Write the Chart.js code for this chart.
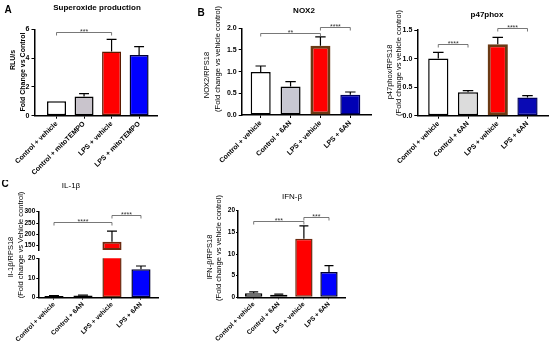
<!DOCTYPE html>
<html>
<head>
<meta charset="utf-8">
<script src="https://cdn.jsdelivr.net/npm/chart.js@4"></script>
<style>
  body { margin: 0; background: #fff; }
  #fig { position: relative; width: 550px; height: 344px; overflow: hidden; }
  #fig canvas { position: absolute; }
</style>
</head>
<body>
<div id="fig">
  <canvas id="panel-a"></canvas>
  <canvas id="panel-b"></canvas>
  <canvas id="panel-p47"></canvas>
  <canvas id="panel-il1b-low"></canvas>
  <canvas id="panel-il1b-high"></canvas>
  <canvas id="panel-ifnb"></canvas>
</div>
<script>
// categories
const mitoLabels = ['Control + vehicle', 'Control + mitoTEMPO', 'LPS + vehicle', 'LPS + mitoTEMPO'];
const sixAnLabels = ['Control + vehicle', 'Control + 6AN', 'LPS + vehicle', 'LPS + 6AN'];

// A - superoxide (fold change vs control)
const superoxideMeans = [1.0, 1.33, 4.45, 4.22];
const superoxideSem = [0, 0.2, 0.85, 0.58];
const superoxideTicks = [0, 2, 4, 6];
const superoxideSig = [[0, 2, 5.84, '***']];

// B - NOX2/RPS18
const nox2Means = [0.99, 0.66, 1.6, 0.47];
const nox2Sem = [0.14, 0.11, 0.2, 0.06];
const nox2Ticks = [0, 0.5, 1.0, 1.5, 2.0];
const nox2Sig = [[0, 2, 1.9, '**'], [2, 3, 2.03, '****']];

// B - p47phox/RPS18
const p47Means = [1.0, 0.41, 1.25, 0.32];
const p47Sem = [0.11, 0.03, 0.12, 0.03];
const p47Ticks = [0, 0.5, 1.0, 1.5];
const p47Sig = [[0, 1, 1.25, '****'], [2, 3, 1.53, '****']];

// C - IL-1b/RPS18 (broken axis)
const il1bMeans = [0.9, 1.1, 167, 14.5];
const il1bSem = [0.15, 0.2, 47, 1.6];
const il1bLowTicks = [0, 5, 10, 15, 20];
const il1bHighTicks = [150, 200, 250, 300];
const il1bSig = [[0, 2, 253, '****'], [2, 3, 285, '****']];

// C - IFN-b/RPS18
const ifnbMeans = [0.95, 0.6, 13.5, 5.85];
const ifnbSem = [0.3, 0.15, 3.0, 1.45];
const ifnbTicks = [0, 5, 10, 15, 20];
const ifnbSig = [[0, 2, 17.6, '***'], [2, 3, 18.6, '***']];

const FONT = '"Liberation Sans", Arial, sans-serif';

// error bars, significance brackets and free text (panel letters, titles, y titles)
function figurePlugin(p) {
  return {
    id: 'fig-' + p.name,
    afterDatasetsDraw(chart) {
      const ctx = chart.ctx, xs = chart.scales.x, ys = chart.scales.y;
      const meta = chart.getDatasetMeta(0);
      ctx.save();
      ctx.strokeStyle = '#000';
      ctx.lineWidth = 1.2;
      p.sem.forEach((e, i) => {
        const v = p.means[i];
        if (!e || v == null || v > ys.max || v < ys.min) return;
        const bar = meta.data[i];
        const top = ys.getPixelForValue(v + e);
        const half = bar.width * 0.26;
        ctx.beginPath();
        ctx.moveTo(bar.x, bar.y);
        ctx.lineTo(bar.x, top);
        ctx.moveTo(bar.x - half, top);
        ctx.lineTo(bar.x + half, top);
        ctx.stroke();
      });
      ctx.strokeStyle = '#555';
      ctx.lineWidth = 0.8;
      ctx.fillStyle = '#333';
      ctx.font = '7px ' + FONT;
      ctx.textAlign = 'center';
      ctx.textBaseline = 'alphabetic';
      (p.sig || []).forEach(([a, b, yv, txt]) => {
        const x1 = xs.getPixelForValue(a), x2 = xs.getPixelForValue(b);
        const y = Math.round(ys.getPixelForValue(yv)) + 0.5;
        ctx.beginPath();
        ctx.moveTo(x1, y + 3);
        ctx.lineTo(x1, y);
        ctx.lineTo(x2, y);
        ctx.lineTo(x2, y + 3);
        ctx.stroke();
        ctx.fillText(txt, (x1 + x2) / 2, y + 1);
      });
      ctx.restore();
    },
    afterDraw(chart) {
      const ctx = chart.ctx;
      ctx.save();
      ctx.fillStyle = '#000';
      ctx.textBaseline = 'middle';
      ctx.textAlign = 'center';
      (p.texts || []).forEach(t => {
        ctx.font = t.font + ' ' + FONT;
        ctx.save();
        ctx.translate(t.x - p.box.x, t.y - p.box.y);
        if (t.rot) ctx.rotate(-Math.PI / 2);
        ctx.fillText(t.text, 0, 0);
        ctx.restore();
      });
      ctx.restore();
    }
  };
}

function buildPanel(id, box, area, cfg) {
  const canvas = document.getElementById(id);
  canvas.width = box.w;
  canvas.height = box.h;
  canvas.style.left = box.x + 'px';
  canvas.style.top = box.y + 'px';
  const yW = 20;
  const xH = cfg.hideX ? 0 : cfg.xH;
  const size = cfg.tickSize || 7;
  const tickFont = { family: FONT, size: size, weight: 'bold' };
  const tickLen = size < 7 ? 2 : 3;
  return new Chart(canvas, {
    type: 'bar',
    data: {
      datasets: [{
        data: cfg.means.map((v, i) => ({ x: i, y: cfg.keep ? (cfg.keep(v) ? v : null) : v })),
        backgroundColor: cfg.fill,
        borderColor: cfg.stroke,
        borderWidth: cfg.strokeW,
        borderSkipped: false,
        barPercentage: cfg.barPct,
        categoryPercentage: 1,
        base: cfg.yMin,
        clip: 0
      }]
    },
    options: {
      responsive: false,
      animation: false,
      devicePixelRatio: 1,
      events: [],
      layout: {
        padding: {
          left: area.l - box.x - yW,
          right: box.x + box.w - area.r,
          top: area.t - box.y,
          bottom: box.y + box.h - area.b - xH
        }
      },
      plugins: { legend: { display: false }, tooltip: { enabled: false } },
      scales: {
        x: {
          type: 'linear',
          min: cfg.xMin,
          max: cfg.xMax,
          offset: false,
          display: !cfg.hideX,
          afterBuildTicks: s => { s.ticks = cfg.labels.map((_, i) => ({ value: i })); },
          afterFit: s => { s.height = xH; },
          ticks: {
            callback: v => cfg.labels[v],
            minRotation: 45, maxRotation: 45, autoSkip: false,
            padding: 1, color: '#000', font: tickFont
          },
          grid: { drawOnChartArea: false, offset: false, tickLength: tickLen, color: '#000', lineWidth: 1 },
          border: { color: '#000', width: 1.5 }
        },
        y: {
          min: cfg.yMin,
          max: cfg.ticks[cfg.ticks.length - 1],
          afterBuildTicks: s => { s.ticks = cfg.ticks.map(v => ({ value: v })); },
          afterFit: s => { s.width = yW; },
          ticks: { callback: cfg.fmt || (v => v), padding: size < 7 ? 1 : 2, color: '#000', font: tickFont },
          grid: { drawOnChartArea: false, tickLength: tickLen, color: '#000', lineWidth: 1 },
          border: { color: '#000', width: 1.5 }
        }
      }
    },
    plugins: [figurePlugin({ name: id, box: box, means: cfg.means, sem: cfg.sem, sig: cfg.sig, texts: cfg.texts })]
  });
}

const fixed1 = v => v.toFixed(1);
const redEdge = '#6b3a14';
const navyEdge = '#00005a';

// A
buildPanel('panel-a', { x: 0, y: 0, w: 185, h: 180 }, { l: 34.5, t: 29.3, r: 157, b: 115.7 }, {
  labels: mitoLabels, means: superoxideMeans, sem: superoxideSem, ticks: superoxideTicks, sig: superoxideSig,
  yMin: 0, xMin: -0.8, xMax: 3.65, xH: 60, barPct: 0.69,
  fill: ['#ffffff', '#c9c4cc', '#ff0000', '#0000ff'],
  stroke: ['#000', '#000', '#5a1a00', '#000033'], strokeW: 1.5,
  texts: [
    { text: 'A', x: 8, y: 10, font: 'bold 10px' },
    { text: 'Superoxide production', x: 97, y: 8, font: 'bold 8px' },
    { text: 'RLU/s', x: 13, y: 60, font: 'bold 7px', rot: true },
    { text: 'Fold Change vs Control', x: 23, y: 72, font: 'bold 7px', rot: true }
  ]
});

// B - NOX2
buildPanel('panel-b', { x: 185, y: 0, w: 187, h: 180 }, { l: 241.7, t: 28.3, r: 371.7, b: 115 }, {
  labels: sixAnLabels, means: nox2Means, sem: nox2Sem, ticks: nox2Ticks, sig: nox2Sig, fmt: fixed1,
  yMin: 0, xMin: -0.636, xMax: 3.716, xH: 60, barPct: 0.67,
  fill: ['#ffffff', '#c8c8d2', '#ff0000', '#0000b4'],
  stroke: ['#000', '#000', redEdge, navyEdge], strokeW: [1.5, 1.5, 3, 1.5],
  texts: [
    { text: 'B', x: 201, y: 13, font: 'bold 10px' },
    { text: 'NOX2', x: 304, y: 11, font: 'bold 8px' },
    { text: 'NOX2/RPS18', x: 207, y: 75, font: '7.5px', rot: true },
    { text: '(Fold change vs vehicle control)', x: 218, y: 59, font: '7.5px', rot: true }
  ]
});

// B - p47phox
buildPanel('panel-p47', { x: 365, y: 0, w: 185, h: 180 }, { l: 417.3, t: 30, r: 548.3, b: 115.7 }, {
  labels: sixAnLabels, means: p47Means, sem: p47Sem, ticks: p47Ticks, sig: p47Sig, fmt: fixed1,
  yMin: 0, xMin: -0.706, xMax: 3.7, xH: 60, barPct: 0.68,
  fill: ['#ffffff', '#dcdcdc', '#ff0000', '#0a0ab4'],
  stroke: ['#000', '#000', redEdge, navyEdge], strokeW: [1.5, 1.5, 3, 1.5],
  texts: [
    { text: 'p47phox', x: 487, y: 15, font: 'bold 8px' },
    { text: 'p47phox/RPS18', x: 390, y: 72, font: '7.5px', rot: true },
    { text: '(Fold change vs vehicle control)', x: 399, y: 63, font: '7.5px', rot: true }
  ]
});

// C - IL-1b, lower segment
const il1bFill = ['#ffffff', '#ffffff', '#ff0000', '#0000ff'];
const il1bStroke = ['#000', '#000', '#6b2a10', '#000033'];
buildPanel('panel-il1b-low', { x: 0, y: 180, w: 200, h: 164 }, { l: 38.3, t: 258.3, r: 158, b: 297.7 }, {
  labels: sixAnLabels, means: il1bMeans, sem: il1bSem, ticks: il1bLowTicks,
  yMin: 0, xMin: -0.541, xMax: 3.587, xH: 44, barPct: 0.66, tickSize: 6.5,
  fill: il1bFill, stroke: il1bStroke, strokeW: 1.5,
  texts: [
    { text: 'C', x: 5, y: 184, font: 'bold 10px' },
    { text: 'IL-1\u03b2', x: 71, y: 186, font: '8px' },
    { text: 'Il-1\u03b2/RPS18', x: 11, y: 257, font: '7.5px', rot: true },
    { text: '(Fold change vs Vehicle control)', x: 20.5, y: 245, font: '7.5px', rot: true }
  ]
});

// C - IL-1b, upper segment above the break
buildPanel('panel-il1b-high', { x: 0, y: 180, w: 200, h: 80 }, { l: 38.3, t: 211.7, r: 158, b: 250 }, {
  labels: sixAnLabels, means: il1bMeans, sem: il1bSem, ticks: il1bHighTicks, sig: il1bSig,
  keep: v => v >= il1bHighTicks[0],
  yMin: 131, xMin: -0.541, xMax: 3.587, hideX: true, barPct: 0.66, tickSize: 6.5,
  fill: il1bFill, stroke: il1bStroke, strokeW: 2
});

// C - IFN-b
buildPanel('panel-ifnb', { x: 200, y: 180, w: 170, h: 164 }, { l: 238, t: 210.7, r: 345, b: 297.3 }, {
  labels: sixAnLabels, means: ifnbMeans, sem: ifnbSem, ticks: ifnbTicks, sig: ifnbSig,
  yMin: 0, xMin: -0.625, xMax: 3.638, xH: 44, barPct: 0.69, tickSize: 6.5,
  fill: il1bFill, stroke: il1bStroke, strokeW: 1.5,
  texts: [
    { text: 'IFN-\u03b2', x: 292, y: 197, font: '8px' },
    { text: 'IFN-\u03b2/RPS18', x: 210, y: 257, font: '7.5px', rot: true },
    { text: '(Fold change vs vehicle control)', x: 218.5, y: 248, font: '7.5px', rot: true }
  ]
});
</script>
</body>
</html>
